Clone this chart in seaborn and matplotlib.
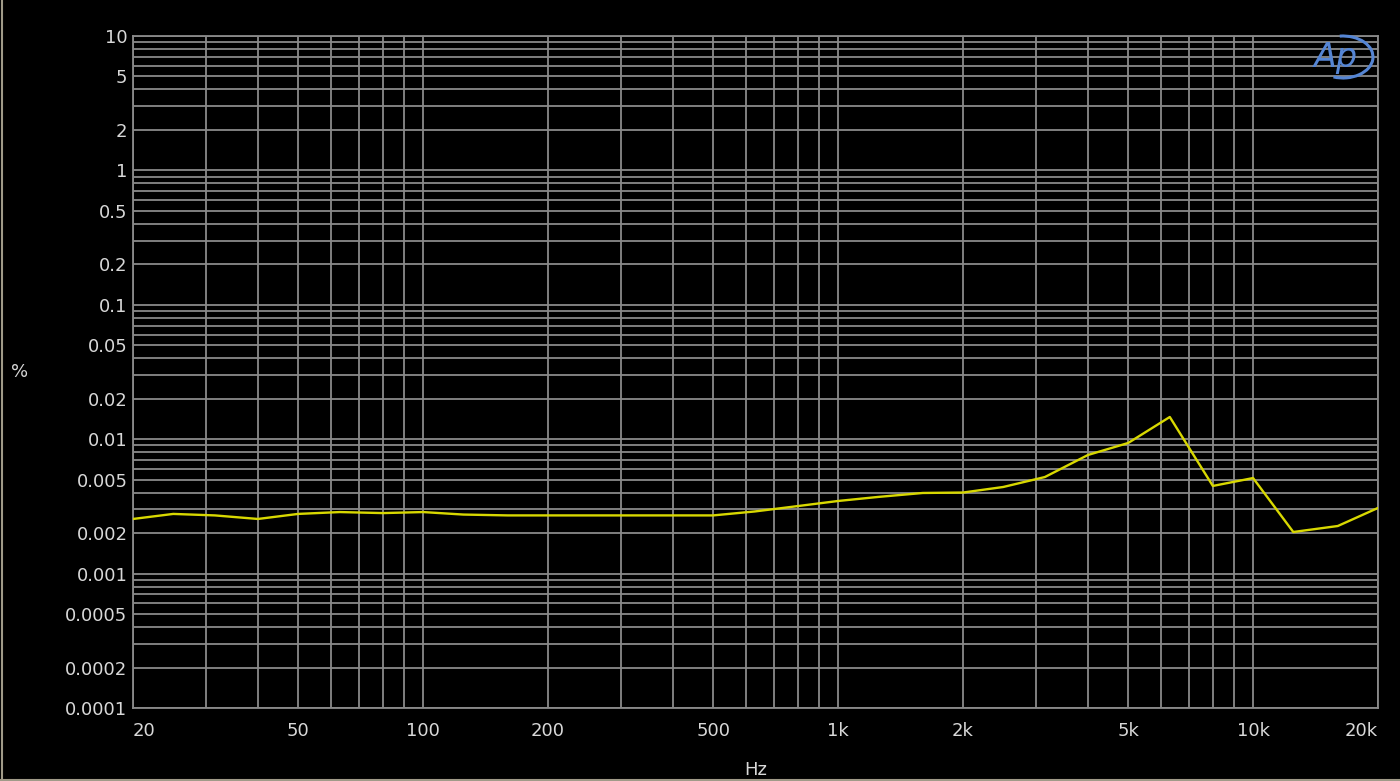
import numpy as np
import pandas as pd
import seaborn as sns
import matplotlib.pyplot as plt
from matplotlib.ticker import FixedLocator, NullFormatter
from matplotlib.patches import Arc
from matplotlib.lines import Line2D

# 1/3-octave frequencies (Hz) and THD+N (%)
freqs = [20, 25, 31.5, 40, 50, 63, 80, 100, 125, 160, 200, 250, 315, 400, 500,
         630, 800, 1000, 1250, 1600, 2000, 2500, 3150, 4000, 5000, 6300, 8000,
         10000, 12500, 16000, 20000]
thd = [0.00255, 0.00278, 0.00271, 0.00255, 0.00278, 0.00287, 0.00282, 0.00287,
       0.00275, 0.00271, 0.00271, 0.00271, 0.00271, 0.00271, 0.00271,
       0.00290, 0.00318, 0.00347, 0.00372, 0.00398, 0.00401, 0.00441, 0.00523,
       0.00763, 0.00937, 0.01463, 0.00449, 0.00514, 0.00204, 0.00226, 0.00308]

y_ticks = [10, 5, 2, 1, 0.5, 0.2, 0.1, 0.05, 0.02, 0.01, 0.005, 0.002,
           0.001, 0.0005, 0.0002, 0.0001]
y_labels = ['10', '5', '2', '1', '0.5', '0.2', '0.1', '0.05', '0.02', '0.01',
            '0.005', '0.002', '0.001', '0.0005', '0.0002', '0.0001']
x_ticks = [20, 50, 100, 200, 500, 1000, 2000, 5000, 10000, 20000]
x_labels = ['20', '50', '100', '200', '500', '1k', '2k', '5k', '10k', '20k']

df = pd.DataFrame({'freq': freqs, 'thd': thd})

sns.set_style("dark")
plt.rcParams['font.family'] = ['DejaVu Sans']

bg = 'black'
grid_c = '#8a8a8a'
txt_c = '#d8d8d8'

fig = plt.figure(figsize=(14, 7.81), dpi=100, facecolor=bg)
ax = fig.add_axes([133 / 1400, 1 - 708 / 781, 1245 / 1400, 672 / 781])
ax.set_facecolor(bg)

sns.lineplot(data=df, x='freq', y='thd', ax=ax, color='#d8d800',
             linewidth=1.7, zorder=5)

ax.set_xscale('log')
ax.set_yscale('log')
ax.set_xlim(20, 20000)
ax.set_ylim(0.0001, 10)

# gridlines at every 1..9 step of each decade
x_minor = [m * 10 ** e for e in range(1, 5) for m in range(1, 10)
           if 20 <= m * 10 ** e <= 20000]
y_minor = [m * 10.0 ** e for e in range(-4, 1) for m in range(1, 10)] + [10]
ax.xaxis.set_major_locator(FixedLocator(x_ticks))
ax.xaxis.set_minor_locator(FixedLocator(x_minor))
ax.yaxis.set_major_locator(FixedLocator(y_ticks))
ax.yaxis.set_minor_locator(FixedLocator(y_minor))
ax.set_xticklabels(x_labels)
ax.set_yticklabels(y_labels)
ax.xaxis.set_minor_formatter(NullFormatter())
ax.yaxis.set_minor_formatter(NullFormatter())

ax.grid(True, which='both', color=grid_c, linewidth=1.3)
ax.tick_params(which='both', length=0, colors=txt_c, labelsize=13)
ax.tick_params(axis='x', pad=10)
ax.tick_params(axis='y', pad=4)
for s in ax.spines.values():
    s.set_visible(True)
    s.set_color(grid_c)
    s.set_linewidth(1.3)

xl = ax.get_xticklabels()
xl[0].set_ha('left')
xl[-1].set_ha('right')

ax.set_xlabel('Hz', color=txt_c, fontsize=13)
ax.xaxis.set_label_coords(0.5, -0.092)
ax.xaxis.label.set_va('center')
ax.set_ylabel('%', color=txt_c, fontsize=13, rotation=0, ha='center', va='center')
ax.yaxis.set_label_coords(-0.0908, 0.5)

# Ap logo
logo_c = '#5585d4'
fig.text(1336 / 1400, 1 - 58 / 781, 'Ap', color=logo_c, fontsize=24,
         style='italic', ha='center', va='center', family=['DejaVu Sans'])
arc = Arc((1343 / 1400, 1 - 57 / 781), 60 / 1400, 42 / 781, theta1=-105,
          theta2=95, color=logo_c, linewidth=2.2, transform=fig.transFigure)
fig.add_artist(arc)

# thin outer border on left and bottom
border_c = '#a09a88'
fig.add_artist(Line2D([1.5 / 1400, 1.5 / 1400], [0, 1], color=border_c, linewidth=1.5))
fig.add_artist(Line2D([0, 1], [1.5 / 781, 1.5 / 781], color=border_c, linewidth=1.5))

fig.savefig('out.png', dpi=100, facecolor=bg)
